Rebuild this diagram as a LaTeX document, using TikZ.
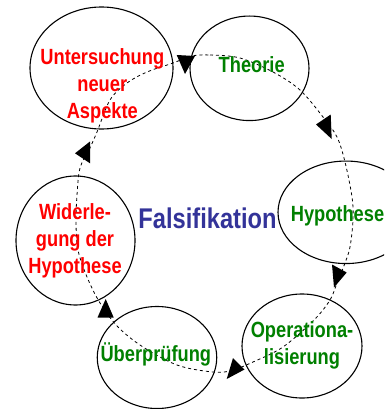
\documentclass[tikz,border=0pt]{standalone}
\usepackage{fontspec}
\usetikzlibrary{shapes.geometric}
\newfontfamily\labelfont[FakeStretch=0.83]{Liberation Sans}
\definecolor{fred}{RGB}{255,0,0}
\definecolor{fgreen}{RGB}{0,128,0}
\definecolor{fblue}{RGB}{51,51,153}
\tikzset{
  stage/.style={ellipse, draw=black, line width=1.1pt, inner sep=0pt},
  lbl/.style={font=\labelfont\bfseries\fontsize{22}{26.8}\selectfont, align=center, inner sep=0pt},
  cycleline/.style={black, line width=0.8pt, dash pattern=on 3pt off 3pt},
  tip/.style={fill=black, draw=none}
}
\begin{document}
\begin{tikzpicture}[x=1pt, y=-1pt]
\useasboundingbox (0,0) rectangle (384,409);
\clip (0,0) rectangle (384,409);
\fill[white] (0,0) rectangle (384,409);

% stage outlines
\node[stage, minimum width=143pt, minimum height=122pt] (untersuchung) at (101.5,68) {};
\node[stage, minimum width=119pt, minimum height=104.5pt] (theorie) at (249.5,68.3) {};
\node[stage, minimum width=136pt, minimum height=102.5pt] (hypothese) at (346,212.3) {};
\node[stage, minimum width=120pt, minimum height=104pt] (operationalisierung) at (302,346) {};
\node[stage, minimum width=119.5pt, minimum height=102pt] (ueberpruefung) at (157,357.5) {};
\node[stage, minimum width=119pt, minimum height=129pt] (widerlegung) at (75.5,240.5) {};

% dashed cycle through all stages
\draw[cycleline] plot[smooth cycle, tension=0.55] coordinates {
  (192,56) (210,55) (240,58) (273,72) (300,90) (323,117) (337,137)
  (345,162) (352,197) (353,220) (350,247) (345,263) (337,283)
  (330,300) (314,320) (283,347) (253,362) (230,371) (210,371.7)
  (177,365) (143,347) (118,327) (100,303) (87,277) (78,250) (76,223)
  (77,195) (80,168) (89,150) (97,132) (110,100) (127,83) (147,72) (173,63)};

% arrow tips on the cycle
\fill[tip] (176.7,55) -- (195,56) -- (185,74) -- cycle;
\fill[tip] (316,124.5) -- (330.7,114.5) -- (331.7,139) -- cycle;
\fill[tip] (332,264.5) -- (346.7,272.5) -- (334,287.5) -- cycle;
\fill[tip] (233,358) -- (244.5,369.5) -- (226.7,379) -- cycle;
\fill[tip] (105.7,299) -- (97.5,317.5) -- (113.7,317.5) -- cycle;
\fill[tip] (90,141.5) -- (75,153.3) -- (90,163.3) -- cycle;

% labels
\node[lbl, text=fred, anchor=north] (untersuchung-text) at (102.3,48.3) {Untersuchung\\neuer\\Aspekte};
\node[lbl, text=fgreen, anchor=base] (theorie-text) at (251.7,72.5) {Theorie};
\node[lbl, text=fgreen, anchor=base] (hypothese-text) at (337.5,221) {Hypothese};
\node[lbl, text=fgreen, anchor=north] (operationalisierung-text) at (302,321.7) {Operationa-\\lisierung};
\node[lbl, text=fgreen, anchor=base] (ueberpruefung-text) at (155.8,361) {Überprüfung};
\node[lbl, text=fred, anchor=north] (widerlegung-text) at (75,203.3) {Widerle-\\gung der\\Hypothese};
\node[lbl, text=fblue, font=\labelfont\bfseries\fontsize{28.5}{32}\selectfont, anchor=base] (falsifikation) at (207.5,228.5) {Falsifikation};
\end{tikzpicture}
\end{document}
